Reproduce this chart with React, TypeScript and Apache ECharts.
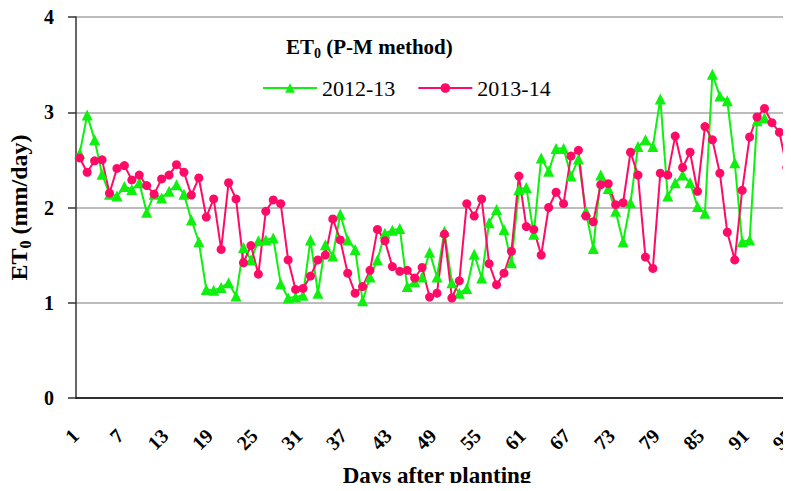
import React, { useEffect, useRef } from "react";
import * as echarts from "echarts";

const days: string[] = Array.from({ length: 97 }, (_, i) => String(i + 1));

const et2012: (number | null)[] = [
  2.57, 2.97, 2.71, 2.35, 2.14, 2.12, 2.22, 2.19, 2.26, 1.95,
  2.14, 2.10, 2.17, 2.24, 2.14, 1.87, 1.64, 1.14, 1.13, 1.16,
  1.21, 1.07, 1.58, 1.45, 1.65, 1.66, 1.68, 1.20, 1.05, 1.06,
  1.08, 1.66, 1.10, 1.61, 1.49, 1.93, 1.66, 1.56, 1.02, 1.27,
  1.45, 1.73, 1.76, 1.78, 1.17, 1.22, 1.27, 1.53, 1.27, 1.75,
  1.21, 1.10, 1.15, 1.51, 1.26, 1.84, 1.98, 1.77, 1.42, 2.19,
  2.21, 1.72, 2.52, 2.38, 2.62, 2.62, 2.33, 2.51, 1.96, 1.57,
  2.34, 2.20, 1.96, 1.64, 2.05, 2.64, 2.71, 2.64, 3.14, 2.12,
  2.26, 2.34, 2.26, 2.01, 1.94, 3.40, 3.17, 3.12, 2.47, 1.64,
  1.66, 2.91, 2.94, null, null, null, null,
];

const et2013: number[] = [
  2.52, 2.37, 2.49, 2.50, 2.15, 2.41, 2.44, 2.29, 2.34, 2.23,
  2.14, 2.30, 2.34, 2.45, 2.37, 2.13, 2.31, 1.90, 2.09, 1.56,
  2.26, 2.09, 1.42, 1.60, 1.30, 1.96, 2.08, 2.04, 1.45, 1.14,
  1.15, 1.28, 1.45, 1.50, 1.88, 1.66, 1.31, 1.10, 1.17, 1.34,
  1.77, 1.65, 1.38, 1.33, 1.34, 1.26, 1.37, 1.06, 1.10, 1.72,
  1.05, 1.23, 2.04, 1.91, 2.09, 1.41, 1.19, 1.31, 1.54, 2.33,
  1.80, 1.77, 1.50, 2.00, 2.16, 2.04, 2.54, 2.60, 1.91, 1.85,
  2.24, 2.25, 2.03, 2.05, 2.58, 2.34, 1.48, 1.36, 2.36, 2.34,
  2.75, 2.42, 2.58, 2.17, 2.85, 2.71, 2.36, 1.74, 1.45, 2.18,
  2.74, 2.95, 3.04, 2.89, 2.79, 2.42, 3.06,
];

const seriesNames = ["2012-13", "2013-14"];
const FONT = "Liberation Serif";

export default function App() {
  const ref = useRef<HTMLDivElement>(null);
  useEffect(() => {
    if (!ref.current) return;
    const chart = echarts.init(ref.current, null, { renderer: "svg" });
    chart.setOption({
      animation: false,
      backgroundColor: "#ffffff",
      title: {
        text: "{a|ET}{b|0}{a| (P-M method)}",
        left: 281,
        top: 29,
        textStyle: {
          rich: {
            a: { fontFamily: FONT, fontWeight: "bold", fontSize: 21, color: "#000", lineHeight: 26 },
            b: { fontFamily: FONT, fontWeight: "bold", fontSize: 14, color: "#000", verticalAlign: "bottom", lineHeight: 26, padding: [7, 0, 0, 0] },
          },
        },
      },
      legend: {
        left: 257,
        top: 72,
        itemWidth: 54,
        itemHeight: 12,
        itemGap: 22,
        data: seriesNames,
        textStyle: { fontFamily: FONT, fontWeight: "normal", fontSize: 22, color: "#000", padding: [2, 0, 0, 0] },
      },
      grid: { left: 76, top: 17, width: 722, height: 381, containLabel: false, outerBoundsMode: "none" },
      xAxis: {
        type: "category",
        data: days,
        boundaryGap: true,
        axisLine: { show: true, lineStyle: { color: "#000", width: 1.5 } },
        axisTick: { show: false },
        axisLabel: {
          interval: 5,
          rotate: 45,
          margin: 30,
          padding: [0, 6, 0, 0],
          fontFamily: FONT,
          fontWeight: "bold",
          fontSize: 20,
          color: "#000",
        },
        name: "Days after planting",
        nameLocation: "middle",
        nameGap: 66,
        nameTextStyle: { fontFamily: FONT, fontWeight: "bold", fontSize: 23, color: "#000" },
      },
      yAxis: {
        type: "value",
        min: 0,
        max: 4,
        interval: 1,
        axisLine: { show: true, lineStyle: { color: "#333", width: 1.5 } },
        axisTick: { show: true, length: 8, lineStyle: { color: "#333", width: 1.5 } },
        splitLine: { show: true, lineStyle: { color: "#a6a6a6", width: 1.5 } },
        axisLabel: {
          margin: 22,
          fontFamily: FONT,
          fontWeight: "bold",
          fontSize: 20,
          color: "#000",
        },
        name: "{a|ET}{b|0}{a| (mm/day)}",
        nameLocation: "middle",
        nameRotate: 90,
        nameGap: 42,
        nameTextStyle: {
          rich: {
            a: { fontFamily: FONT, fontWeight: "bold", fontSize: 24, color: "#000", lineHeight: 28 },
            b: { fontFamily: FONT, fontWeight: "bold", fontSize: 16, color: "#000", verticalAlign: "bottom", lineHeight: 28, padding: [8, 0, 0, 0] },
          },
        },
      },
      series: [
        {
          name: seriesNames[0],
          type: "line",
          data: et2012,
          symbol: "triangle",
          symbolSize: 11,
          showAllSymbol: true,
          itemStyle: { color: "#0ef00e" },
          lineStyle: { color: "#0ef00e", width: 2 },
        },
        {
          name: seriesNames[1],
          type: "line",
          data: et2013,
          symbol: "circle",
          symbolSize: 9,
          showAllSymbol: true,
          itemStyle: { color: "#ff0a66" },
          lineStyle: { color: "#ff0a66", width: 2 },
        },
      ],
    });
    return () => chart.dispose();
  }, []);
  return <div ref={ref} style={{ width: 791, height: 491, margin: -8 }} />;
}
